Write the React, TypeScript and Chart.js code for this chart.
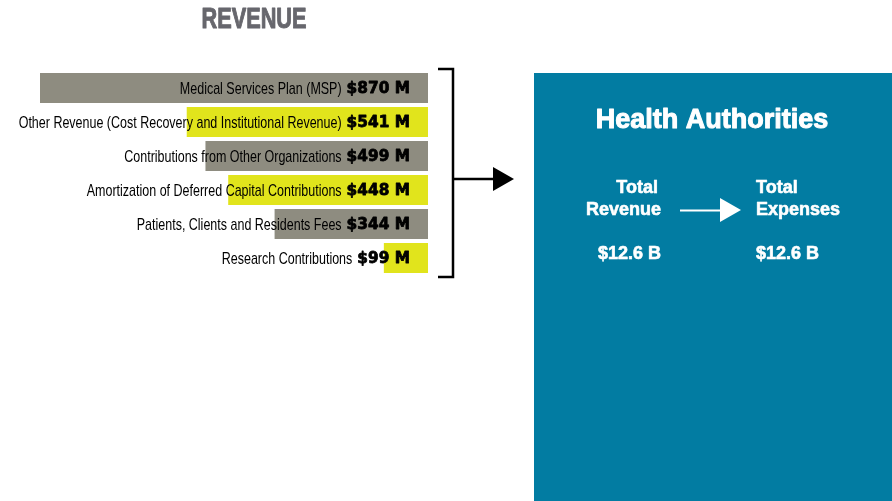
import React, { useEffect, useRef } from "react";
import { Chart, registerables } from "chart.js";

Chart.register(...registerables);

const categories = [
  "Medical Services Plan (MSP)",
  "Other Revenue (Cost Recovery and Institutional Revenue)",
  "Contributions from Other Organizations",
  "Amortization of Deferred Capital Contributions",
  "Patients, Clients and Residents Fees",
  "Research Contributions",
];
const values = [870, 541, 499, 448, 344, 99];
const valueLabels = ["$870 M", "$541 M", "$499 M", "$448 M", "$344 M", "$99 M"];
const chartTitle = "REVENUE";
const boxTitle = "Health Authorities";
const leftColumn = ["Total", "Revenue", "$12.6 B"];
const rightColumn = ["Total", "Expenses", "$12.6 B"];

const GRAY = "#8e8c80";
const YELLOW = "#e1e41c";
const TEAL = "#027ca2";
const barColors = values.map((_, i) => (i % 2 === 0 ? GRAY : YELLOW));

function drawScaled(
  ctx: CanvasRenderingContext2D,
  text: string,
  x: number,
  y: number,
  sx: number,
  bolden = 0
) {
  ctx.save();
  ctx.translate(x, y);
  ctx.scale(sx, 1);
  ctx.fillText(text, 0, 0);
  if (bolden > 0) {
    ctx.lineWidth = bolden;
    ctx.strokeStyle = ctx.fillStyle as string;
    ctx.lineJoin = "round";
    ctx.strokeText(text, 0, 0);
  }
  ctx.restore();
}

const overlayPlugin = {
  id: "overlay",
  afterDraw(chart: any) {
    const ctx: CanvasRenderingContext2D = chart.ctx;
    const xScale = chart.scales.x;
    const meta = chart.getDatasetMeta(0);
    const right = xScale.getPixelForValue(0);

    ctx.save();
    // title
    ctx.fillStyle = "#67676d";
    ctx.font = 'bold 29px "Liberation Sans"';
    ctx.textAlign = "center";
    ctx.textBaseline = "middle";
    drawScaled(ctx, chartTitle, 254, 20, 0.75, 1);

    // bar labels
    meta.data.forEach((bar: any, i: number) => {
      const y = bar.y + 1;
      ctx.fillStyle = "#000";
      ctx.textAlign = "right";
      ctx.textBaseline = "middle";
      ctx.font = 'bold 16px "DejaVu Sans"';
      const vx = right - 18;
      drawScaled(ctx, valueLabels[i], vx, y, 0.96, 0.8);
      const vw = ctx.measureText(valueLabels[i]).width * 0.96;
      ctx.font = '17px "Liberation Sans"';
      drawScaled(ctx, categories[i], vx - vw - 5, y, 0.735);
    });

    // bracket
    ctx.strokeStyle = "#000";
    ctx.lineWidth = 2.5;
    ctx.beginPath();
    ctx.moveTo(438, 69);
    ctx.lineTo(453, 69);
    ctx.lineTo(453, 277);
    ctx.lineTo(438, 277);
    ctx.stroke();
    ctx.beginPath();
    ctx.moveTo(453, 179);
    ctx.lineTo(495, 179);
    ctx.stroke();
    ctx.fillStyle = "#000";
    ctx.beginPath();
    ctx.moveTo(493, 167);
    ctx.lineTo(514, 179);
    ctx.lineTo(493, 191);
    ctx.closePath();
    ctx.fill();

    // teal box
    ctx.fillStyle = TEAL;
    ctx.fillRect(534, 73, chart.width - 534, chart.height - 73);

    ctx.fillStyle = "#fff";
    ctx.textBaseline = "middle";
    ctx.textAlign = "center";
    ctx.font = 'bold 27px "Liberation Sans"';
    drawScaled(ctx, boxTitle, 712, 121, 1, 1);

    ctx.font = 'bold 18px "Liberation Sans"';
    ctx.textAlign = "right";
    drawScaled(ctx, leftColumn[0], 658, 188, 1, 0.6);
    drawScaled(ctx, leftColumn[1], 661, 210, 1, 0.6);
    drawScaled(ctx, leftColumn[2], 661, 254, 1, 0.6);
    ctx.textAlign = "left";
    drawScaled(ctx, rightColumn[0], 756, 188, 1, 0.6);
    drawScaled(ctx, rightColumn[1], 756, 210, 1, 0.6);
    drawScaled(ctx, rightColumn[2], 756, 254, 1, 0.6);

    ctx.strokeStyle = "#fff";
    ctx.lineWidth = 2;
    ctx.beginPath();
    ctx.moveTo(680, 210.5);
    ctx.lineTo(722, 210.5);
    ctx.stroke();
    ctx.beginPath();
    ctx.moveTo(720, 198);
    ctx.lineTo(741, 210);
    ctx.lineTo(720, 222);
    ctx.closePath();
    ctx.fill();
    ctx.restore();
  },
};

export default function App() {
  const ref = useRef<HTMLCanvasElement>(null);
  useEffect(() => {
    if (!ref.current) return;
    const chart = new Chart(ref.current, {
      type: "bar",
      data: {
        labels: categories,
        datasets: [
          {
            data: values,
            backgroundColor: barColors,
            borderWidth: 0,
            categoryPercentage: 1,
            barPercentage: 30 / 34,
          },
        ],
      },
      options: {
        indexAxis: "y",
        responsive: false,
        animation: false,
        layout: { padding: { left: 40, right: 464, top: 71, bottom: 226 } },
        scales: {
          x: { display: false, reverse: true, min: 0, max: 870 },
          y: { display: false },
        },
        plugins: {
          legend: { display: false },
          tooltip: { enabled: false },
          title: { display: false },
        },
      },
      plugins: [overlayPlugin],
    });
    return () => chart.destroy();
  }, []);
  return (
    <div style={{ position: "fixed", left: 0, top: 0, width: 892, height: 501, background: "#fff" }}>
      <canvas ref={ref} width={892} height={501} style={{ width: 892, height: 501, display: "block" }} />
    </div>
  );
}
